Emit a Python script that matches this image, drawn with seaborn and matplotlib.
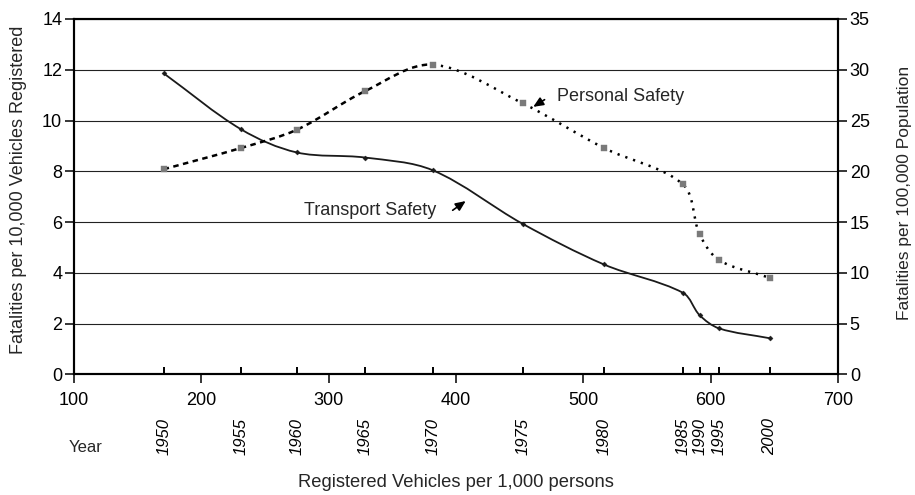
import matplotlib
matplotlib.use("Agg")
import matplotlib.pyplot as plt
import numpy as np
import pandas as pd
import seaborn as sns
from matplotlib.path import Path
from matplotlib.patches import PathPatch

# data
years = ["1950", "1955", "1960", "1965", "1970", "1975", "1980", "1985", "1990", "1995", "2000"]
vehicles = [170.4, 231.3, 275.1, 328.7, 381.7, 452.3, 516.1, 578.3, 591.3, 606.6, 646.5]
transport = [11.86, 9.65, 8.74, 8.54, 8.04, 5.93, 4.33, 3.21, 2.33, 1.81, 1.42]  # per 10,000 vehicles
personal = [20.2, 22.3, 24.1, 27.9, 30.5, 26.7, 22.3, 18.7, 13.8, 11.25, 9.5]   # per 100,000 population

FONT = "Liberation Sans"
FS = 13

# approx pixels per data unit, used only to weight the smoothing
PX_X = 1.273
PX_LEFT = 25.4
PX_RIGHT = 10.16


def smooth_path(xs, ys, sy, start=0, stop=None):
    # smoothed line through the points (chord weighted catmull-rom as beziers)
    pts = np.column_stack([xs, ys]).astype(float)
    scl = np.array([PX_X, sy])
    ext = np.vstack([pts[0], pts, pts[-1]])
    if stop is None:
        stop = len(pts) - 1

    def ln(a, b):
        return np.hypot(*((b - a) * scl))

    verts = [pts[start]]
    codes = [Path.MOVETO]
    for i in range(start, stop):
        p0, p1, p2, p3 = ext[i], ext[i + 1], ext[i + 2], ext[i + 3]
        l01, l12, l23 = ln(p0, p1), ln(p1, p2), ln(p2, p3)
        c1 = p1 + (p2 - p0) * l12 / (l01 + l12) / 3
        c2 = p2 - (p3 - p1) * l12 / (l12 + l23) / 3
        verts += [c1, c2, p2]
        codes += [Path.CURVE4] * 3
    return Path(verts, codes)


sns.set_theme(style="white")
plt.rcParams["font.family"] = [FONT, "DejaVu Sans"]
plt.rcParams.update({"xtick.bottom": True, "ytick.left": True, "ytick.right": True})

df = pd.DataFrame({"year": years, "vehicles": vehicles,
                   "transport": transport, "personal": personal})

fig = plt.figure(figsize=(9.15, 4.95), dpi=100)
ax = fig.add_axes([74 / 915, 1 - 374.3 / 495, 764 / 915, 355.3 / 495])
ax2 = ax.twinx()

# transport safety (left axis)
ax.add_patch(PathPatch(smooth_path(df.vehicles, df.transport, PX_LEFT), fill=False,
                       edgecolor="#1a1a1a", lw=1.3, zorder=3))
sns.scatterplot(data=df, x="vehicles", y="transport", ax=ax, marker="D", s=7,
                color="#1a1a1a", edgecolor="#1a1a1a", zorder=4)

# personal safety (right axis), dashed up to 1970, dotted afterwards
ax2.add_patch(PathPatch(smooth_path(df.vehicles, df.personal, PX_RIGHT, 0, 4), fill=False,
                        edgecolor="black", lw=1.8, linestyle=(0, (2.2, 1.8)), zorder=3))
ax2.add_patch(PathPatch(smooth_path(df.vehicles, df.personal, PX_RIGHT, 4), fill=False,
                        edgecolor="black", lw=1.8, linestyle=(0, (0.9, 2.4)), zorder=3))
sns.scatterplot(data=df, x="vehicles", y="personal", ax=ax2, marker="s", s=14,
                color="#7a7a7a", edgecolor="#7a7a7a", zorder=4)

ax.set_xlim(100, 700)
ax.set_ylim(0, 14)
ax2.set_ylim(0, 35)
ax.set_xticks(np.arange(100, 701, 100))
ax.set_yticks(np.arange(0, 15, 2))
ax2.set_yticks(np.arange(0, 36, 5))

# year markers as minor ticks
ax.set_xticks(df.vehicles, minor=True)
ax.set_xticklabels(df.year, minor=True, fontstyle="italic", rotation=90, va="top",
                   fontsize=12)

ax.yaxis.grid(True, color="#222222", lw=0.8)
ax.set_axisbelow(True)

for a in (ax, ax2):
    for sp in a.spines.values():
        sp.set_color("black")
        sp.set_linewidth(1.5)

ax.tick_params(axis="y", which="major", left=True, direction="out", length=6.5, width=1.1,
               color="black", labelsize=FS, labelcolor="black", pad=2)
ax.tick_params(axis="x", which="major", bottom=True, direction="out", length=6.5, width=1.1,
               color="black", labelsize=FS, labelcolor="black", pad=6)
ax.tick_params(axis="x", which="minor", bottom=True, direction="in", length=5,
               width=1.4, color="black", labelcolor="black", pad=31.5)
ax2.tick_params(axis="y", direction="out", length=6.5, width=1.1, right=True,
                color="black", labelsize=FS, labelcolor="black", pad=2)

ax.set_ylabel("Fatalities per 10,000 Vehicles Registered", fontsize=FS)
ax.yaxis.set_label_coords(-0.062, 0.52)
ax2.set_ylabel("Fatalities per 100,000 Population", fontsize=12.5)
ax2.yaxis.set_label_coords(1.077, 0.51)
ax.set_xlabel("Registered Vehicles per 1,000 persons", fontsize=13.2)
ax.xaxis.set_label_coords(0.5, -0.28)

fig.text(86 / 915, 1 - 447 / 495, "Year", fontsize=12, ha="center", va="center")

# annotations
arrow = dict(arrowstyle="-|>,head_length=0.5,head_width=0.22", color="black", lw=1.2)
ax.text(479.3, 10.96, "Personal Safety", fontsize=FS, ha="left", va="center")
ax.annotate("", xy=(458.8, 10.48), xytext=(471.4, 10.88), arrowprops=arrow)
ax.text(384.8, 6.46, "Transport Safety", fontsize=FS, ha="right", va="center")
ax.annotate("", xy=(409.4, 6.89), xytext=(395.6, 6.40), arrowprops=arrow)

fig.savefig("out.png", dpi=100)
